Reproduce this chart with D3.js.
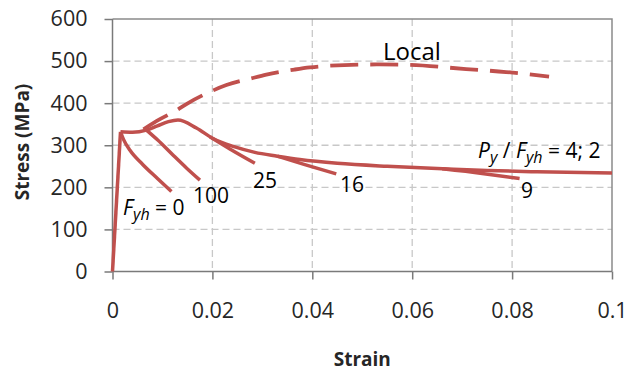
<!DOCTYPE html>
<html>
<head>
<meta charset="utf-8">
<script src="https://cdn.jsdelivr.net/npm/d3@7"></script>
<style>
  body { margin: 0; background: #fff; }
  text { font-family: "Open Sans", sans-serif; }
</style>
</head>
<body>
<div id="chart"></div>
<script>
// strain / stress (MPa) pairs
var elastic = [[0, 0], [0.0016, 332]];
var mainCurve = [[0.0016, 332], [0.004, 331], [0.0068, 336], [0.009, 346], [0.0112, 356],
  [0.0131, 360], [0.0168, 341], [0.0201, 316], [0.0245, 296], [0.0285, 283], [0.033, 274],
  [0.0375, 266], [0.045, 257], [0.055, 250], [0.065, 245], [0.075, 240], [0.085, 237], [0.1, 234]];
var branch0 = [[0.0016, 332], [0.0022, 314], [0.0035, 288], [0.006, 255], [0.009, 221], [0.0118, 190]];
var branch100 = [[0.0068, 336], [0.009, 313], [0.012, 278], [0.0148, 246], [0.0175, 217]];
var branch25 = [[0.0195, 320], [0.0235, 291], [0.0285, 257]];
var branch16 = [[0.033, 274], [0.0385, 254], [0.0448, 232]];
var branch9 = [[0.066, 244], [0.074, 233], [0.0815, 221]];
var localCurve = [[0.0062, 338], [0.0095, 362], [0.0128, 383], [0.0148, 398], [0.0201, 430],
  [0.0228, 443], [0.0278, 459], [0.0308, 468], [0.0365, 480], [0.0395, 485], [0.0435, 489],
  [0.0534, 492], [0.0594, 491], [0.0708, 481], [0.0788, 474], [0.0874, 463]];

var xTicks = [0, 0.02, 0.04, 0.06, 0.08, 0.1];
var xTickLabels = ["0", "0.02", "0.04", "0.06", "0.08", "0.1"];
var yTicks = [0, 100, 200, 300, 400, 500, 600];

var svgWidth = 629, svgHeight = 376;
var margin = { top: 19, right: 17, bottom: 104.5, left: 112.5 };
var width = svgWidth - margin.left - margin.right;
var height = svgHeight - margin.top - margin.bottom;

var svg = d3.select("#chart").append("svg")
  .attr("width", svgWidth)
  .attr("height", svgHeight);

var chartGroup = svg.append("g")
  .attr("transform", `translate(${margin.left}, ${margin.top})`);

var xScale = d3.scaleLinear().domain([0, 0.1]).range([0, width]);
var yScale = d3.scaleLinear().domain([0, 600]).range([height, 0]);

// gridlines
chartGroup.append("g")
  .selectAll("line")
  .data(yTicks.slice(1, -1))
  .enter().append("line")
  .attr("x1", 0).attr("x2", width)
  .attr("y1", d => yScale(d)).attr("y2", d => yScale(d))
  .attr("stroke", "#c8c8c8").attr("stroke-width", 1.3)
  .attr("stroke-dasharray", "7,4");

chartGroup.append("g")
  .selectAll("line")
  .data(xTicks.slice(1, -1))
  .enter().append("line")
  .attr("x1", d => xScale(d)).attr("x2", d => xScale(d))
  .attr("y1", 0).attr("y2", height)
  .attr("stroke", "#c8c8c8").attr("stroke-width", 1.3)
  .attr("stroke-dasharray", "7,4");

// frame on top and right
chartGroup.append("path")
  .attr("d", `M0,0H${width}V${height}`)
  .attr("fill", "none")
  .attr("stroke", "#8a8a8a")
  .attr("stroke-width", 1.5);

// axes
var xAxis = d3.axisBottom(xScale)
  .tickValues(xTicks)
  .tickSize(8)
  .tickPadding(23)
  .tickFormat((d, i) => xTickLabels[i]);

var yAxis = d3.axisLeft(yScale)
  .tickValues(yTicks)
  .tickSize(8)
  .tickPadding(17);

var gx = chartGroup.append("g")
  .attr("transform", `translate(0, ${height})`)
  .call(xAxis);

var gy = chartGroup.append("g")
  .call(yAxis);

[gx, gy].forEach(function(g) {
  g.select(".domain").attr("stroke", "#7a7a7a").attr("stroke-width", 1.5);
  g.selectAll(".tick line").attr("stroke", "#7a7a7a").attr("stroke-width", 1.5);
  g.selectAll(".tick text")
    .attr("font-family", "'Open Sans', sans-serif")
    .attr("font-size", 21.5)
    .attr("fill", "#262626");
});
gx.select(".domain").attr("d", `M0,0H${width}`);
gy.select(".domain").attr("d", `M0,0V${height}`);

// curves
var line = d3.line()
  .x(d => xScale(d[0]))
  .y(d => yScale(d[1]))
  .curve(d3.curveMonotoneX);

var red = "#c0504d";
[elastic, mainCurve, branch0, branch100, branch25, branch16, branch9].forEach(function(c) {
  chartGroup.append("path")
    .datum(c)
    .attr("d", d3.line().x(d => xScale(d[0])).y(d => yScale(d[1])).curve(c === elastic ? d3.curveLinear : d3.curveMonotoneX))
    .attr("fill", "none")
    .attr("stroke", red)
    .attr("stroke-width", 3.5)
    .attr("stroke-linejoin", "round");
});

chartGroup.append("path")
  .datum(localCurve)
  .attr("d", line)
  .attr("fill", "none")
  .attr("stroke", red)
  .attr("stroke-width", 3.8)
  .attr("stroke-dasharray", "28,12");

// annotations
var ann = svg.append("g")
  .attr("font-size", 21)
  .attr("fill", "#000");

ann.append("text").attr("x", 383).attr("y", 60).attr("font-size", 24).text("Local");

var f0 = ann.append("text").attr("x", 123).attr("y", 215);
f0.append("tspan").attr("font-style", "italic").text("F");
f0.append("tspan").attr("font-style", "italic").attr("font-size", 16).attr("dy", 5).text("yh");
f0.append("tspan").attr("dy", -5).text(" = 0");

ann.append("text").attr("x", 193).attr("y", 203).text("100");
ann.append("text").attr("x", 253).attr("y", 188).text("25");
ann.append("text").attr("x", 340).attr("y", 192).text("16");
ann.append("text").attr("x", 521).attr("y", 198).text("9");

var py = ann.append("text").attr("x", 478).attr("y", 158);
py.append("tspan").attr("font-style", "italic").text("P");
py.append("tspan").attr("font-style", "italic").attr("font-size", 16).attr("dy", 5).text("y");
py.append("tspan").attr("dy", -5).text(" / ");
py.append("tspan").attr("font-style", "italic").text("F");
py.append("tspan").attr("font-style", "italic").attr("font-size", 16).attr("dy", 5).text("yh");
py.append("tspan").attr("dy", -5).text(" = 4; 2");

// axis titles
svg.append("text")
  .attr("transform", "translate(29, 142) rotate(-90)")
  .attr("text-anchor", "middle")
  .attr("font-size", 19)
  .attr("font-weight", "bold")
  .attr("fill", "#262626")
  .text("Stress (MPa)");

svg.append("text")
  .attr("x", margin.left + width / 2)
  .attr("y", 366)
  .attr("text-anchor", "middle")
  .attr("font-size", 19)
  .attr("font-weight", "bold")
  .attr("fill", "#262626")
  .text("Strain");
</script>
</body>
</html>
